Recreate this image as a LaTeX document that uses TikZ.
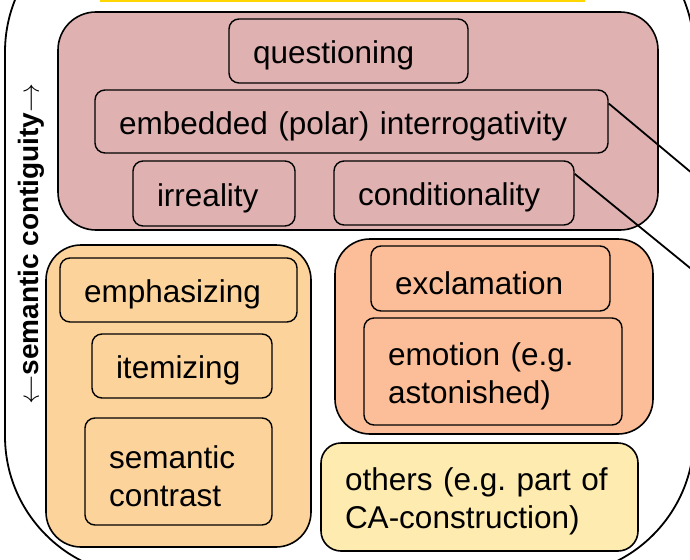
\documentclass[tikz,border=0pt]{standalone}
\usepackage{fontspec}
\setmainfont{Liberation Sans}
\newfontfamily\arrowfont{Latin Modern Roman}
\definecolor{pinkc}{HTML}{DFB1B1}
\definecolor{orangec}{HTML}{FCD49B}
\definecolor{salmonc}{HTML}{FBBE98}
\definecolor{yellowc}{HTML}{FEEBB0}
\definecolor{goldc}{HTML}{FFD700}
\tikzset{
  container/.style={draw=black, line width=1.6pt, inner sep=0pt},
  item/.style={draw=black, line width=1.4pt, rounded corners=10pt, inner xsep=24pt, inner ysep=0pt, align=left, font=\fontsize{31.5}{38}\selectfont\frenchspacing},
  link/.style={draw=black, line width=1.8pt}
}
\newcommand{\itembox}[6]{% name, x1, y1, x2, y2, text
  \pgfmathsetmacro{\bh}{#5-#3}%
  \pgfmathsetmacro{\tw}{#4-#2-46}%
  \node[item, text width=\tw pt, minimum height=\bh pt] (#1) at ({(#2+#4)/2},{(#3+#5)/2}) {\raisebox{-4.5pt}[\height][\depth]{\vbox{\hsize=\tw pt\raggedright #6}}};}
\newcommand{\labarrow}[1]{{\arrowfont\mdseries\fontsize{31}{32}\selectfont\raisebox{-1pt}{#1}}}
\begin{document}
\begin{tikzpicture}[x=1pt,y=-1pt]
\clip (0,0) rectangle (690,559);
\fill[white] (0,0) rectangle (690,559);
% top bar of a box above
\fill[goldc] (100,0) rectangle (585,2.5);
% outer frame
\draw[line width=1.8pt, rounded corners=140pt] (5,-88) rectangle (694,576);
% vertical label
\node[rotate=90, anchor=base, font=\bfseries\fontsize{28}{32}\selectfont] (lab) at (38,244) {\labarrow{←}semantic contiguity\labarrow{→}};
% containers
\node[container, fill=pinkc, rounded corners=38pt, minimum width=600pt, minimum height=218pt] (pinkbox) at (358,121) {};
\node[container, fill=orangec, rounded corners=35pt, minimum width=265pt, minimum height=302pt] (orangebox) at (178.5,396) {};
\node[container, fill=salmonc, rounded corners=35pt, minimum width=318pt, minimum height=195pt] (salmonbox) at (494,336.5) {};
% items
\itembox{quest}{230}{19}{467}{83}{questioning}
\itembox{emb}{96}{90}{607}{153}{embedded (polar) interrogativity}
\itembox{irr}{134}{161}{294}{226}{irreality}
\itembox{cond}{335}{161}{573}{225}{conditionality}
\itembox{emph}{61}{258}{296}{322}{emphasizing}
\itembox{item}{93}{334}{271}{398}{itemizing}
\itembox{contr}{86}{418}{271}{525}{semantic\\contrast}
\itembox{excl}{372}{246}{609}{311}{exclamation}
\itembox{emo}{365}{318}{621}{425}{emotion (e.g.\\astonished)}
\begin{scope}[item/.append style={fill=yellowc, rounded corners=20pt, line width=1.6pt}]
\itembox{others}{322}{443}{637}{551}{others (e.g. part of\\CA-construction)}
\end{scope}
% connectors leaving the picture
\coordinate (out1) at (760,230);
\coordinate (out2) at (760,325);
\draw[link] (emb.4) -- (out1);
\draw[link] (cond.9.5) -- (out2);
\end{tikzpicture}
\end{document}
